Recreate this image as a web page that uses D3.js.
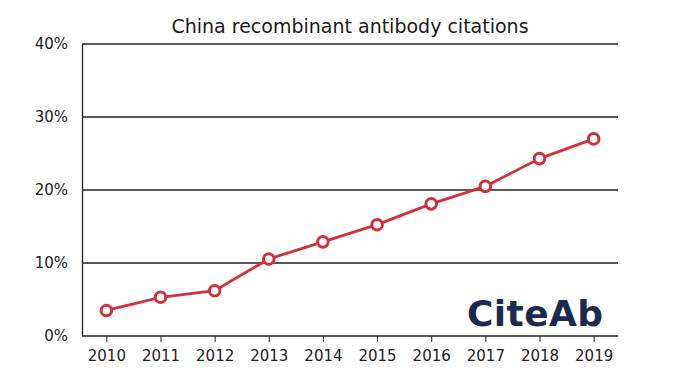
<!DOCTYPE html>
<html>
<head>
<meta charset="utf-8">
<script src="https://cdn.jsdelivr.net/npm/d3@7"></script>
<style>
  body { margin: 0; background: #fff; }
  svg { display: block; font-family: "DejaVu Sans", sans-serif; }
</style>
</head>
<body>
<div id="chart"></div>
<script>
// chart data
const years = [2010, 2011, 2012, 2013, 2014, 2015, 2016, 2017, 2018, 2019]
const share = [3.5, 5.3, 6.2, 10.55, 12.9, 15.25, 18.1, 20.5, 24.3, 27.0]
const yTicks = [0, 10, 20, 30, 40]

const width = 684
const height = 384
const margin = {top: 44, right: 66, bottom: 48, left: 82}

const svg = d3.select("#chart").append("svg")
    .attr("width", width)
    .attr("height", height)

const x = d3.scalePoint()
    .domain(years)
    .range([margin.left, width - margin.right])
    .padding(0.45)

const y = d3.scaleLinear()
    .domain([0, 40])
    .range([height - margin.bottom, margin.top])

// title
svg.append("text")
    .attr("x", (margin.left + width - margin.right) / 2)
    .attr("y", 32.5)
    .attr("text-anchor", "middle")
    .style("font-size", "19px")
    .attr("fill", "#1a1a1a")
    .text("China recombinant antibody citations")

// horizontal grid lines
svg.append("g")
    .selectAll("line")
    .data(yTicks.slice(1))
    .join("line")
    .attr("x1", margin.left)
    .attr("x2", width - margin.right)
    .attr("y1", d => y(d))
    .attr("y2", d => y(d))
    .attr("stroke", "#222")
    .attr("stroke-width", 1.3)

// y axis
const yAxis = svg.append("g")
    .attr("transform", `translate(${margin.left},0)`)
    .call(d3.axisLeft(y).tickValues(yTicks).tickFormat(d => d + "%").tickSize(0).tickPadding(14))
yAxis.attr("font-family", null)
yAxis.select(".domain").attr("stroke", "#222").attr("stroke-width", 1.3)
yAxis.selectAll("text").style("font-family", "'DejaVu Sans', sans-serif").style("font-size", "15px").attr("fill", "#222")

// x axis
const xAxis = svg.append("g")
    .attr("transform", `translate(0,${height - margin.bottom})`)
    .call(d3.axisBottom(x).tickSize(6).tickPadding(8).tickSizeOuter(0))
xAxis.attr("font-family", null)
xAxis.select(".domain")
    .attr("d", `M${margin.left},0H${width - margin.right}`)
    .attr("stroke", "#222").attr("stroke-width", 1.3)
xAxis.selectAll(".tick line").attr("stroke", "#222").attr("stroke-width", 1)
xAxis.selectAll("text").style("font-family", "'DejaVu Sans', sans-serif").style("font-size", "15px").attr("fill", "#222")

// logo text
svg.append("text")
    .attr("x", 603)
    .attr("y", 326)
    .attr("text-anchor", "end")
    .style("font-family", "'DejaVu Sans', sans-serif")
    .style("font-weight", "bold")
    .style("font-size", "36px")
    .attr("textLength", 136)
    .attr("fill", "#1b2a4e")
    .text("CiteAb")

const pts = years.map((yr, i) => ({year: yr, v: share[i]}))

const line = d3.line()
    .x(d => x(d.year))
    .y(d => y(d.v))

svg.append("path")
    .datum(pts)
    .attr("d", line)
    .attr("fill", "none")
    .attr("stroke", "#d0303f")
    .attr("stroke-width", 2.8)

svg.append("g")
    .selectAll("circle")
    .data(pts)
    .join("circle")
    .attr("cx", d => x(d.year))
    .attr("cy", d => y(d.v))
    .attr("r", 5.3)
    .attr("fill", "#fff")
    .attr("stroke", "#d0303f")
    .attr("stroke-width", 3)
</script>
</body>
</html>
